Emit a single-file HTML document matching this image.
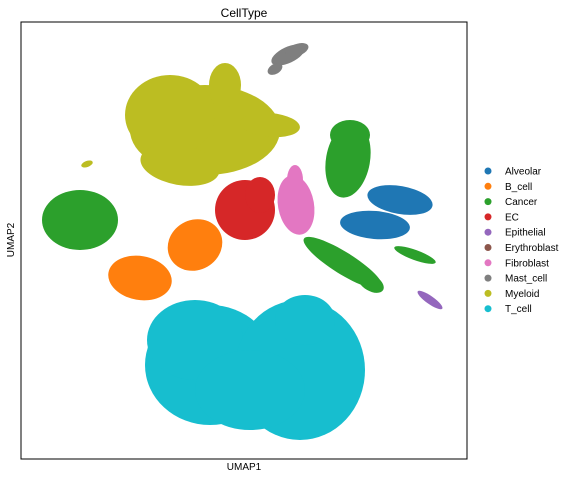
<!DOCTYPE html>
<html><head><meta charset="utf-8"><style>
body{margin:0;background:#fff;font-family:"Liberation Sans","DejaVu Sans",sans-serif}
svg text{font-family:"Liberation Sans","DejaVu Sans",sans-serif}
</style></head><body>
<svg id="chart" width="576" height="479" viewBox="0 0 576 479">
<text x="244" y="17" font-size="12" text-anchor="middle">CellType</text>
<g id="plot"></g>
<rect x="21" y="22" width="446" height="437" fill="none" stroke="#000" stroke-width="1"/>
<text x="244" y="470" font-size="10" text-anchor="middle">UMAP1</text>
<text x="14" y="240" font-size="10" text-anchor="middle" transform="rotate(-90 14 240)">UMAP2</text>
<g id="legend"></g>
</svg>
<script>
const categories=["Alveolar","B_cell","Cancer","EC","Epithelial","Erythroblast","Fibroblast","Mast_cell","Myeloid","T_cell"];
const colors=["#1f77b4","#ff7f0e","#2ca02c","#d62728","#9467bd","#8c564b","#e377c2","#7f7f7f","#bcbd22","#17becf"];
// blobs: [categoryIndex, cx, cy, rx, ry, rotationDeg] in UMAP data units
const blobs=[
[8,18.4,32.9,7.5,4.5,0],[8,14.9,34.4,4.5,4.0,0],[8,20.4,37.4,1.6,2.2,0],[8,24.9,33.4,3.0,1.2,-5],[8,15.9,29.4,4.0,2.0,-10],[8,6.6,29.5,0.6,0.3,20],
[7,26.7,40.4,1.8,0.8,25],[7,27.6,40.9,1.2,0.6,20],[7,25.4,39.0,0.8,0.5,30],
[2,5.9,23.9,3.8,3.0,0],[2,32.7,29.9,2.2,3.8,-10],[2,32.9,32.4,2.0,1.5,0],[2,32.2,19.6,4.6,1.1,-32],[2,35.0,17.6,1.4,0.8,-30],[2,39.4,20.4,2.2,0.5,-20],
[3,22.4,24.9,3.0,3.0,0],[3,23.9,26.4,1.5,1.8,0],
[6,27.5,25.4,1.8,3.0,10],[6,27.4,27.9,0.8,1.5,0],
[0,35.4,23.4,3.5,1.4,-5],[0,37.9,25.9,3.3,1.4,-10],
[1,17.4,21.4,2.8,2.5,30],[1,11.9,18.1,3.2,2.2,-10],
[4,40.9,15.9,1.5,0.4,-35],
[9,18.9,9.4,6.5,6.0,0],[9,17.4,11.9,4.8,4.0,0],[9,27.9,8.9,6.5,7.0,0],[9,28.4,13.9,3.0,2.5,0],[9,22.9,6.9,5.5,4.0,0]
];
const xDomain=[0,44.6],yDomain=[0,43.7];
const px0=21,px1=467,py0=459,py1=22;
const sx=v=>px0+(v-xDomain[0])/(xDomain[1]-xDomain[0])*(px1-px0);
const sy=v=>py0-(v-yDomain[0])/(yDomain[1]-yDomain[0])*(py0-py1);
const ns="http://www.w3.org/2000/svg";
const plot=document.getElementById('plot');
blobs.forEach(b=>{
  const e=document.createElementNS(ns,'ellipse');
  const cx=sx(b[1]),cy=sy(b[2]);
  e.setAttribute('cx',cx);e.setAttribute('cy',cy);
  e.setAttribute('rx',Math.abs(sx(b[3])-sx(0)));e.setAttribute('ry',Math.abs(sy(b[4])-sy(0)));
  e.setAttribute('transform','rotate('+(-b[5])+' '+cx+' '+cy+')');
  e.setAttribute('fill',colors[b[0]]);
  
  
  plot.appendChild(e);
});
const lg=document.getElementById('legend');
categories.forEach((c,i)=>{
  const y=171+i*15.3;
  const g=document.createElementNS(ns,'g');
  
  
  const m=document.createElementNS(ns,'circle');
  m.setAttribute('cx',488);m.setAttribute('cy',y);m.setAttribute('r',3.5);m.setAttribute('fill',colors[i]);
  const t=document.createElementNS(ns,'text');
  t.setAttribute('x',505);t.setAttribute('y',y+3.5);t.setAttribute('font-size','10');t.textContent=c;
  g.appendChild(m);g.appendChild(t);lg.appendChild(g);
});
</script>
</body></html>
